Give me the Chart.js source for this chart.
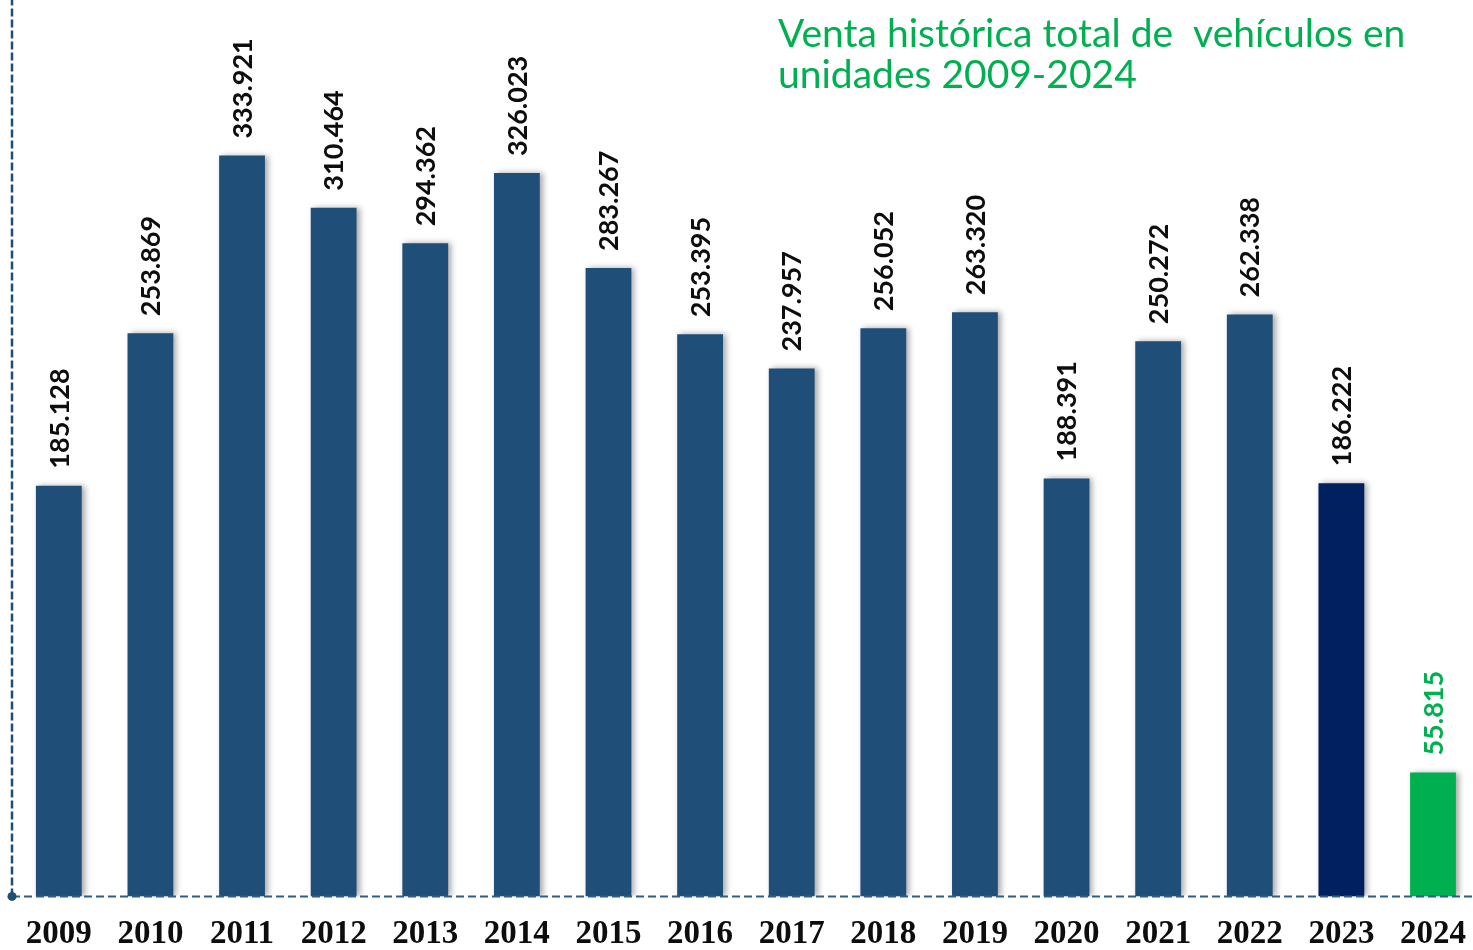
<!DOCTYPE html>
<html>
<head>
<meta charset="utf-8">
<script src="https://cdn.jsdelivr.net/npm/chart.js@4.4.1/dist/chart.umd.min.js"></script>
<style>
  html, body { margin: 0; padding: 0; background: #ffffff; overflow: hidden; width: 1473px; height: 950px; }
  canvas { display: block; }
</style>
</head>
<body>
<canvas id="c" width="1484" height="972"></canvas>
<script>
const years = ['2009','2010','2011','2012','2013','2014','2015','2016','2017','2018','2019','2020','2021','2022','2023','2024'];
const sales = [185128, 253869, 333921, 310464, 294362, 326023, 283267, 253395, 237957, 256052, 263320, 188391, 250272, 262338, 186222, 55815];
const titleLines = ['Venta histórica total de  vehículos en', 'unidades 2009-2024'];

const barBlue = '#1f4e79';
const barNavy = '#002060';
const green = '#00b050';
const barColors = years.map((y, i) => i === years.length - 1 ? green : (i === years.length - 2 ? barNavy : barBlue));
const labelColors = years.map((y, i) => i === years.length - 1 ? green : '#0d0d0d');

function fmt(v) {
  return String(v).replace(/\B(?=(\d{3})+(?!\d))/g, '.');
}

const shadowPlugin = {
  id: 'barShadow',
  beforeDatasetsDraw(chart) {
    const ctx = chart.ctx;
    ctx.save();
    ctx.shadowColor = 'rgba(0,0,0,0.35)';
    ctx.shadowBlur = 6;
    ctx.shadowOffsetX = 3;
    ctx.shadowOffsetY = 0;
  },
  afterDatasetsDraw(chart) {
    chart.ctx.restore();
  }
};

const decorPlugin = {
  id: 'decor',
  afterDraw(chart) {
    const ctx = chart.ctx;
    const a = chart.chartArea;
    // data labels
    const meta = chart.getDatasetMeta(0);
    ctx.save();
    ctx.font = 'bold 27px Lato';
    ctx.textAlign = 'left';
    ctx.textBaseline = 'middle';
    meta.data.forEach((bar, i) => {
      ctx.save();
      ctx.translate(bar.x + 1, bar.y - 17);
      ctx.rotate(-Math.PI / 2);
      ctx.fillStyle = labelColors[i];
      ctx.fillText(fmt(sales[i]), 0, 0);
      ctx.restore();
    });
    ctx.restore();

    // axis lines
    const x0 = 12;
    ctx.save();
    ctx.strokeStyle = barBlue;
    ctx.lineWidth = 2.5;
    ctx.setLineDash([8, 3]);
    ctx.beginPath();
    ctx.moveTo(x0, a.bottom);
    ctx.lineTo(x0, 0);
    ctx.stroke();
    ctx.strokeStyle = '#2f5d8a';
    ctx.lineWidth = 2;
    ctx.setLineDash([8, 4]);
    ctx.beginPath();
    ctx.moveTo(x0, a.bottom);
    ctx.lineTo(chart.width, a.bottom);
    ctx.stroke();
    ctx.setLineDash([]);
    ctx.fillStyle = barBlue;
    ctx.beginPath();
    ctx.arc(x0, a.bottom, 4.5, 0, Math.PI * 2);
    ctx.fill();
    ctx.restore();

    // title
    ctx.save();
    ctx.fillStyle = green;
    ctx.font = '39px Lato';
    ctx.textAlign = 'left';
    ctx.textBaseline = 'alphabetic';
    ctx.fillText(titleLines[0], 778, 47);
    ctx.fillText(titleLines[1], 778, 88);
    ctx.restore();
  }
};

new Chart(document.getElementById('c'), {
  type: 'bar',
  data: {
    labels: years,
    datasets: [{
      data: sales,
      backgroundColor: barColors,
      borderWidth: 0,
      barPercentage: 0.5,
      categoryPercentage: 1.0
    }]
  },
  options: {
    responsive: false,
    maintainAspectRatio: false,
    animation: false,
    layout: { padding: { left: 13, right: 0, top: 9, bottom: 0 } },
    plugins: { legend: { display: false }, tooltip: { enabled: false }, title: { display: false } },
    scales: {
      x: {
        offset: true,
        grid: { display: false, drawTicks: false },
        border: { display: false },
        ticks: {
          color: '#0d0d0d',
          font: { family: 'Liberation Serif', weight: 'bold', size: 33 },
          padding: 18,
          maxRotation: 0,
          autoSkip: false
        }
      },
      y: {
        display: false,
        min: 0,
        max: 400000
      }
    }
  },
  plugins: [shadowPlugin, decorPlugin]
});
</script>
</body>
</html>
